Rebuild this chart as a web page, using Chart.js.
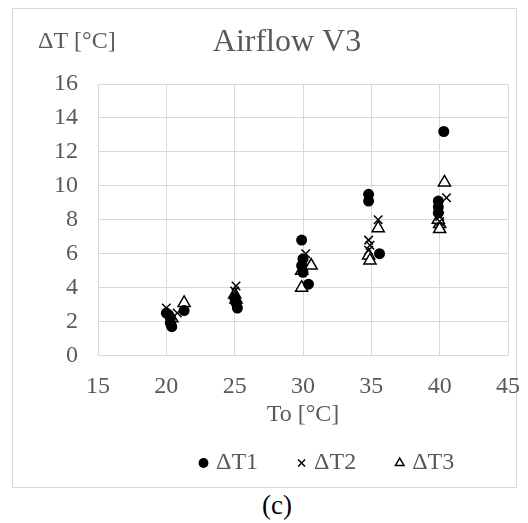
<!DOCTYPE html>
<html>
<head>
<meta charset="utf-8">
<script src="https://cdn.jsdelivr.net/npm/chart.js@4"></script>
<style>
  body { margin: 0; background: #fff; }
  #box { position: absolute; left: 12px; top: 8px; width: 503px; height: 478px; border: 1px solid #d9d9d9; }
  #chart { position: absolute; left: 13px; top: 9px; }
  #caption { position: absolute; left: 26px; width: 502px; top: 490px; text-align: center;
             font-family: "Liberation Serif", serif; font-size: 27px; color: #000; }
</style>
</head>
<body>
<div id="box"></div>
<canvas id="chart" width="515" height="478"></canvas>
<div id="caption">(c)</div>
<script>
// ΔT1 (filled circles)
const dt1X = [20.0, 20.3, 20.4, 20.3, 21.3, 25.0, 25.1, 25.2, 29.9, 30.0, 29.9, 30.0, 30.4, 34.8, 34.8, 35.6, 39.9, 39.9, 39.9, 40.3];
const dt1Y = [2.5, 2.2, 1.7, 1.9, 2.65, 3.4, 3.1, 2.8, 6.8, 5.7, 5.3, 4.9, 4.2, 9.5, 9.1, 6.0, 9.1, 8.75, 8.4, 13.2];
// ΔT2 (crosses)
const dt2X = [20.0, 20.8, 25.1, 25.0, 30.2, 30.0, 35.5, 34.8, 34.9, 34.8, 40.5, 40.0, 40.0];
const dt2Y = [2.8, 2.5, 4.1, 3.8, 6.0, 5.6, 8.0, 6.8, 6.5, 6.2, 9.3, 8.2, 7.9];
// ΔT3 (open triangles)
const dt3X = [21.3, 20.4, 25.0, 25.1, 30.6, 29.9, 29.9, 35.5, 34.8, 34.9, 40.35, 40.0, 40.0, 39.9];
const dt3Y = [3.1, 2.2, 3.6, 3.3, 5.3, 5.0, 4.0, 7.5, 5.9, 5.6, 10.2, 7.75, 7.45, 8.0];

const seriesNames = ['ΔT1', 'ΔT2', 'ΔT3'];
const xTicks = [15, 20, 25, 30, 35, 40, 45];
const yTicks = [0, 2, 4, 6, 8, 10, 12, 14, 16];

const grey = '#595959';
const serif = '"Liberation Serif", "Times New Roman", serif';
const legendPad = 43;

function toPoints(xs, ys) {
    return xs.map((x, i) => ({ x: x, y: ys[i] }));
}

// title and the y axis label sit above the plot, drawn by hand
const headerText = {
    id: 'headerText',
    afterLayout(chart) {
        // legend in the reference starts a bit right of centre
        const lg = chart.legend;
        const w = lg.right - lg.left;
        lg.left = 190 - legendPad;
        lg.right = lg.left + w;
    },
    afterDraw(chart) {
        const c = chart.ctx;
        c.save();
        c.fillStyle = grey;
        c.textBaseline = 'middle';
        c.font = '32px ' + serif;
        c.textAlign = 'center';
        c.fillText('Airflow V3', 274, 34);
        c.font = '24px ' + serif;
        c.textAlign = 'left';
        c.fillText('ΔT [°C]', 25, 33);
        c.restore();
    }
};

new Chart(document.getElementById('chart'), {
    type: 'scatter',
    data: {
        datasets: [{
            label: seriesNames[0],
            data: toPoints(dt1X, dt1Y),
            pointStyle: 'circle',
            pointRadius: 5.5,
            backgroundColor: '#000',
            borderColor: '#000',
            borderWidth: 0
        }, {
            label: seriesNames[1],
            data: toPoints(dt2X, dt2Y),
            pointStyle: 'crossRot',
            pointRadius: 6,
            backgroundColor: '#000',
            borderColor: '#000',
            borderWidth: 1.5
        }, {
            label: seriesNames[2],
            data: toPoints(dt3X, dt3Y),
            pointStyle: 'triangle',
            pointRadius: 7,
            backgroundColor: '#fff',
            borderColor: '#000',
            borderWidth: 1.5
        }]
    },
    options: {
        responsive: false,
        animation: false,
        layout: { padding: { top: 75, left: 0, right: 20, bottom: 2 } },
        scales: {
            x: {
                type: 'linear',
                min: 15,
                max: 45,
                afterBuildTicks: (s) => { s.ticks = xTicks.map(v => ({ value: v })); },
                afterFit: (s) => { s.height = 52.5; s.paddingLeft = 0; s.paddingRight = 0; },
                grid: { color: '#d9d9d9', drawTicks: false },
                border: { color: '#d9d9d9' },
                ticks: { color: grey, font: { family: serif, size: 24 }, padding: 17, autoSkip: false, maxRotation: 0 },
                title: { display: true, text: 'To [°C]', color: grey,
                         font: { family: serif, size: 24 }, padding: { top: 0, bottom: -21 } }
            },
            y: {
                min: 0,
                max: 16,
                afterBuildTicks: (s) => { s.ticks = yTicks.map(v => ({ value: v })); },
                afterFit: (s) => { s.width = 85; },
                grid: { color: '#d9d9d9', drawTicks: false },
                border: { color: '#d9d9d9' },
                ticks: { color: grey, font: { family: serif, size: 24 }, padding: 20, autoSkip: false }
            }
        },
        plugins: {
            legend: {
                position: 'bottom',
                align: 'start',
                labels: {
                    usePointStyle: true,
                    boxWidth: 1,
                    boxHeight: 7,
                    color: grey,
                    padding: legendPad,
                    font: { family: serif, size: 24 }
                }
            },
            tooltip: { enabled: false }
        }
    },
    plugins: [headerText]
});
</script>
</body>
</html>
